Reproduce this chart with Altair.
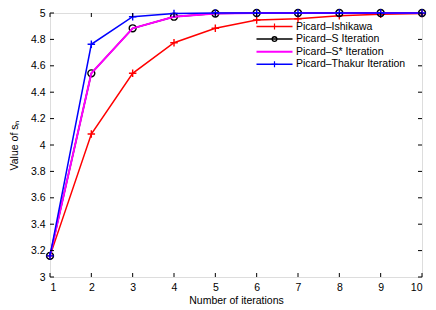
import altair as alt
import pandas as pd

iterations = [1, 2, 3, 4, 5, 6, 7, 8, 9, 10]
series_names = ["Picard–Ishikawa", "Picard–S Iteration", "Picard–S* Iteration", "Picard–Thakur Iteration"]
ishikawa = [3.16, 4.083, 4.543, 4.775, 4.884, 4.947, 4.957, 4.98, 4.99, 4.996]
picard_s = [3.16, 4.543, 4.884, 4.972, 4.996, 5.0, 5.0, 5.0, 5.0, 5.0]
picard_s_star = [3.16, 4.543, 4.884, 4.972, 4.996, 5.0, 5.0, 5.0, 5.0, 5.0]
thakur = [3.16, 4.763, 4.972, 4.997, 5.0, 5.0, 5.0, 5.0, 5.0, 5.0]
x_ticks = [1, 2, 3, 4, 5, 6, 7, 8, 9, 10]
y_ticks = [3.0, 3.2, 3.4, 3.6, 3.8, 4.0, 4.2, 4.4, 4.6, 4.8, 5.0]

colors = ["#ff0000", "#000000", "#ff00ff", "#0000ff"]
markers = ["plus", "circle", None, "plus"]
line_widths = [1.5, 1.5, 2.0, 1.5]
all_values = [ishikawa, picard_s, picard_s_star, thakur]

W, H = 372, 264
FONT = "Liberation Sans"
PLUS = "M-1,0L1,0M0,-1L0,1"

xscale = alt.Scale(domain=[1, 10], nice=False, zero=False)
yscale = alt.Scale(domain=[3, 5], nice=False, zero=False)

x_axis = alt.Axis(values=x_ticks, tickSize=0, grid=False, labelFontSize=10.5, labelPadding=5,
                  title="Number of iterations", titleFontSize=10.5, titleFontWeight="normal",
                  titlePadding=3, domain=False, labelFont=FONT, titleFont=FONT, labelColor="black",
                  titleColor="black")
y_axis = alt.Axis(values=y_ticks, tickSize=0, grid=False, labelFontSize=10.5, labelPadding=5,
                  title="Value of sₙ", titleFontSize=10.5, titleFontWeight="normal",
                  titlePadding=11, domain=False, labelFont=FONT, titleFont=FONT, labelColor="black",
                  titleColor="black", labelFlush=False, format=".1~f")


def X(field):
    return alt.X(field, scale=xscale, axis=x_axis)


def Y(field):
    return alt.Y(field, scale=yscale, axis=y_axis)


layers = []
for i, (name, vals) in enumerate(zip(series_names, all_values)):
    df = pd.DataFrame({"x": iterations, "y": vals, "series": name})
    enc = dict(x=X("x:Q"), y=Y("y:Q"))
    base = alt.Chart(df)
    layers.append(base.mark_line(color=colors[i], strokeWidth=line_widths[i], clip=False).encode(**enc))
    if markers[i] == "plus":
        layers.append(base.mark_point(shape=PLUS, size=56, color=colors[i], filled=False,
                                      strokeWidth=1.4, opacity=1, clip=False).encode(**enc))
    elif markers[i] == "circle":
        layers.append(base.mark_point(shape="circle", size=48, color=colors[i], filled=False,
                                      strokeWidth=1.4, opacity=1, clip=False).encode(**enc))

# inward tick marks on all four sides
xt = pd.DataFrame({"x": x_ticks})
yt = pd.DataFrame({"y": y_ticks})
tick_len = 4
layers.append(alt.Chart(xt).mark_rule(color="black", strokeWidth=1).encode(
    x=X("x:Q"), y=alt.value(H), y2=alt.value(H - tick_len)))
layers.append(alt.Chart(xt).mark_rule(color="black", strokeWidth=1).encode(
    x=X("x:Q"), y=alt.value(0), y2=alt.value(tick_len)))
layers.append(alt.Chart(yt).mark_rule(color="black", strokeWidth=1).encode(
    y=Y("y:Q"), x=alt.value(0), x2=alt.value(tick_len)))
layers.append(alt.Chart(yt).mark_rule(color="black", strokeWidth=1).encode(
    y=Y("y:Q"), x=alt.value(W), x2=alt.value(W - tick_len)))

# manual legend (no border), top-right inside plot
lx0, lx1, ltext = 206.5, 242.5, 246
for i, name in enumerate(series_names):
    ly = 13.5 + 12.6 * i
    ldf = pd.DataFrame({"label": [name]})
    lb = alt.Chart(ldf)
    layers.append(lb.mark_rule(color=colors[i], strokeWidth=line_widths[i]).encode(
        x=alt.value(lx0), x2=alt.value(lx1), y=alt.value(ly)))
    if markers[i] == "plus":
        layers.append(lb.mark_point(shape=PLUS, size=36, color=colors[i], filled=False,
                                    strokeWidth=1.2, opacity=1).encode(
            x=alt.value((lx0 + lx1) / 2), y=alt.value(ly)))
    elif markers[i] == "circle":
        layers.append(lb.mark_point(shape="circle", size=22, color=colors[i], filled=False,
                                    strokeWidth=1.3, opacity=1).encode(
            x=alt.value((lx0 + lx1) / 2), y=alt.value(ly)))
    layers.append(lb.mark_text(align="left", baseline="middle", font=FONT, fontSize=10.5,
                               color="black").encode(
        x=alt.value(ltext), y=alt.value(ly), text=alt.Text("label:N")))

chart = alt.layer(*layers).properties(
    width=W, height=H,
    autosize=alt.AutoSizeParams(type="none"),
    padding={"left": 42, "top": 5, "right": 6, "bottom": 30},
).configure_view(stroke="black", strokeWidth=1.2).configure(background="white")

chart.save("out.html", embed_options={"renderer": "svg", "actions": False})
